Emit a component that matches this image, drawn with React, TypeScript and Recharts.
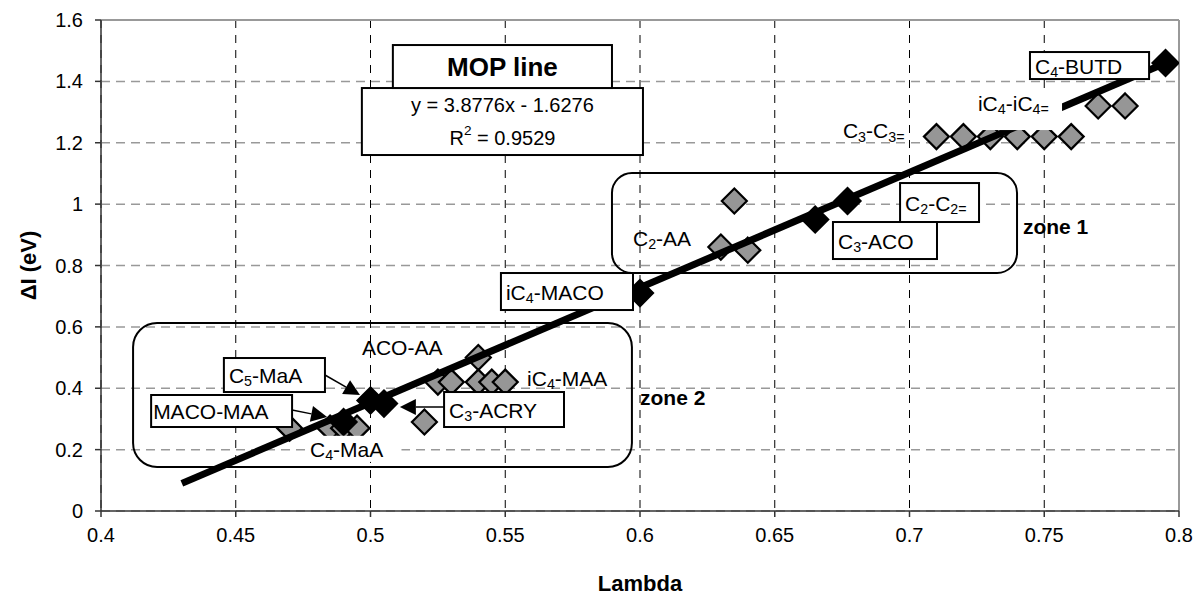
import React from "react";
import {
  CartesianGrid,
  ComposedChart,
  ReferenceArea,
  ReferenceLine,
  Scatter,
  XAxis,
  YAxis,
} from "recharts";

// axis ticks
const xTicks = [0.4, 0.45, 0.5, 0.55, 0.6, 0.65, 0.7, 0.75, 0.8];
const yTicks = [0, 0.2, 0.4, 0.6, 0.8, 1, 1.2, 1.4, 1.6];

// grey diamonds (all pairs)
const pairX = [
  0.71, 0.72, 0.73, 0.74, 0.75, 0.76, 0.77, 0.78, 0.635, 0.63, 0.64, 0.54,
  0.525, 0.53, 0.54, 0.545, 0.55, 0.52, 0.47, 0.485, 0.49, 0.495,
];
const pairY = [
  1.22, 1.22, 1.22, 1.22, 1.22, 1.22, 1.32, 1.32, 1.01, 0.86, 0.85, 0.5, 0.42,
  0.42, 0.42, 0.42, 0.42, 0.29, 0.27, 0.27, 0.27, 0.27,
];

// black diamonds (MOP pairs)
const mopX = [0.795, 0.677, 0.665, 0.6, 0.5, 0.505, 0.49];
const mopY = [1.46, 1.01, 0.95, 0.71, 0.36, 0.35, 0.29];

// MOP fit line ends
const fitX = [0.43, 0.795];
const fitY = [0.09, 1.46];

const pairData = pairX.map((x, i) => ({ x, y: pairY[i] }));
const mopData = mopX.map((x, i) => ({ x, y: mopY[i] }));
const fitData = fitX.map((x, i) => ({ x, y: fitY[i] }));

const FONT = "'Liberation Sans', Arial, sans-serif";
const LABEL = 21;

// "C{4}" -> subscript, "^{2}" -> superscript
function Rich({ text, size }: { text: string; size: number }) {
  const parts: { s: string; k: string }[] = [];
  const re = /(\^?)\{([^}]*)\}/g;
  let last = 0;
  let m: RegExpExecArray | null;
  while ((m = re.exec(text))) {
    if (m.index > last) parts.push({ s: text.slice(last, m.index), k: "n" });
    parts.push({ s: m[2], k: m[1] ? "sup" : "sub" });
    last = m.index + m[0].length;
  }
  if (last < text.length) parts.push({ s: text.slice(last), k: "n" });
  let cur = 0;
  return (
    <>
      {parts.map((p, i) => {
        const target = p.k === "sub" ? size * 0.3 : p.k === "sup" ? -size * 0.4 : 0;
        const dy = target - cur;
        cur = target;
        return (
          <tspan key={i} dy={dy} fontSize={p.k === "n" ? size : size * 0.68}>
            {p.s}
          </tspan>
        );
      })}
    </>
  );
}

type BoxOpts = {
  text?: string;
  size?: number;
  bold?: boolean;
  border?: boolean;
  fill?: string;
  radius?: number;
  align?: "start" | "middle";
  pad?: number;
  lines?: string[];
};

function boxShape(o: BoxOpts) {
  return (p: any) => {
    const { x, y, width, height } = p;
    const size = o.size ?? LABEL;
    const pad = o.pad ?? 5;
    const lines = o.lines ?? (o.text ? [o.text] : []);
    const tx = o.align === "middle" ? x + width / 2 : x + pad;
    const lh = height / Math.max(lines.length, 1);
    return (
      <g>
        <rect
          x={x}
          y={y}
          width={width}
          height={height}
          rx={o.radius ?? 0}
          fill={o.fill ?? "none"}
          stroke={o.border ? "#000" : "none"}
          strokeWidth={2}
        />
        {lines.map((t, i) => (
          <text
            key={i}
            x={tx}
            y={y + lh * i + lh / 2}
            dominantBaseline="central"
            textAnchor={o.align ?? "start"}
            fontFamily={FONT}
            fontSize={size}
            fontWeight={o.bold ? "bold" : "normal"}
            fill="#000"
          >
            <Rich text={t} size={size} />
          </text>
        ))}
      </g>
    );
  };
}

function arrowShape(p: any) {
  const { x1, y1, x2, y2 } = p;
  const ang = Math.atan2(y2 - y1, x2 - x1);
  const L = 16;
  const W = 8;
  const bx = x2 - L * Math.cos(ang);
  const by = y2 - L * Math.sin(ang);
  const nx = -Math.sin(ang) * W;
  const ny = Math.cos(ang) * W;
  return (
    <g>
      <line x1={x1} y1={y1} x2={bx} y2={by} stroke="#000" strokeWidth={1.5} />
      <polygon
        points={`${x2},${y2} ${bx + nx},${by + ny} ${bx - nx},${by - ny}`}
        fill="#000"
      />
    </g>
  );
}

function Diamond({ cx, cy, black }: { cx?: number; cy?: number; black?: boolean }) {
  if (cx == null || cy == null) return null;
  const r = black ? 13 : 12.5;
  return (
    <polygon
      points={`${cx},${cy - r} ${cx + r},${cy} ${cx},${cy + r} ${cx - r},${cy}`}
      fill={black ? "#000" : "#969696"}
      stroke="#000"
      strokeWidth={2.2}
      strokeLinejoin="miter"
    />
  );
}

// annotation boxes in data coordinates [x1, x2, y1, y2]
const annotations: { box: [number, number, number, number]; o: BoxOpts }[] = [
  { box: [0.4119, 0.597, 0.1434, 0.6126], o: { border: true, radius: 24 } },
  { box: [0.5896, 0.7399, 0.7755, 1.1013], o: { border: true, radius: 20 } },
  { box: [0.7421, 0.78, 0.9, 0.96], o: { text: "zone 1", bold: true, pad: 0 } },
  { box: [0.6, 0.64, 0.34, 0.4], o: { text: "zone 2", bold: true, pad: 0 } },
  { box: [0.6753, 0.71, 1.21, 1.27], o: { text: "C{3}-C{3=}", pad: 0 } },
  { box: [0.7243, 0.7566, 1.2414, 1.3294 + 0.045], o: { fill: "#fff" } },
  { box: [0.7254, 0.76, 1.3, 1.36], o: { text: "iC{4}-iC{4=}", pad: 0 } },
  { box: [0.5974, 0.63, 0.86, 0.92], o: { text: "C{2}-AA", pad: 0 } },
  { box: [0.4968, 0.53, 0.5, 0.57], o: { text: "ACO-AA", pad: 0 } },
  { box: [0.5581, 0.59, 0.4, 0.47], o: { text: "iC{4}-MAA", pad: 0 } },
  { box: [0.4768, 0.5115, 0.16, 0.245], o: { text: "C{4}-MaA", fill: "#fff", pad: 2 } },
  { box: [0.4968, 0.6011, 1.16, 1.3783], o: { border: true, fill: "#fff", align: "middle", size: 20, lines: ["y = 3.8776x - 1.6276", "R^{2} = 0.9529"] } },
  { box: [0.5083, 0.5896, 1.3783, 1.5184], o: { border: true, fill: "#fff", align: "middle", text: "MOP line", bold: true, size: 26 } },
  { box: [0.7447, 0.7889, 1.4076, 1.4956], o: { border: true, fill: "#fff", text: "C{4}-BUTD" } },
  { box: [0.6965, 0.7258, 0.9417, 1.0687], o: { border: true, fill: "#fff", text: "C{2}-C{2=}" } },
  { box: [0.6716, 0.7102, 0.8211, 0.9417], o: { border: true, fill: "#fff", text: "C{3}-ACO" } },
  { box: [0.5484, 0.5974, 0.6549, 0.7755], o: { border: true, fill: "#fff", text: "iC{4}-MACO" } },
  { box: [0.4456, 0.4831, 0.3877, 0.4985], o: { border: true, fill: "#fff", text: "C{5}-MaA" } },
  { box: [0.4186, 0.4709, 0.2737, 0.378], o: { border: true, fill: "#fff", text: "MACO-MAA", pad: 2 } },
  { box: [0.5273, 0.5718, 0.2737, 0.3877], o: { border: true, fill: "#fff", text: "C{3}-ACRY" } },
];

// arrows: [fromX, fromY, toX, toY]
const arrows: [number, number, number, number][] = [
  [0.4831, 0.4431, 0.4961, 0.378],
  [0.4709, 0.3291, 0.4839, 0.3063],
  [0.5273, 0.3389, 0.5109, 0.3389],
];

export default function App() {
  return (
    <div style={{ position: "absolute", left: 0, top: 0, width: 1199, height: 601, background: "#fff" }}>
      <ComposedChart
        width={1199}
        height={601}
        margin={{ top: 20, right: 20, bottom: 0, left: 0 }}
      >
        <CartesianGrid
          horizontal={false}
          stroke="#000"
          strokeDasharray="8 7"
          strokeWidth={1}
        />
        <CartesianGrid
          vertical={false}
          stroke="#999"
          strokeDasharray="9 6"
          strokeWidth={1.5}
        />
        <XAxis
          dataKey="x"
          type="number"
          domain={[0.4, 0.8]}
          ticks={xTicks}
          allowDataOverflow
          height={90}
          stroke="#333"
          strokeWidth={1.5}
          tickSize={6}
          tickMargin={11}
          tick={{ fill: "#000", fontSize: 20, fontFamily: FONT }}
          label={{
            content: (p: any) => (
              <text
                x={p.viewBox.x + p.viewBox.width / 2}
                y={583}
                textAnchor="middle"
                dominantBaseline="central"
                fontFamily={FONT}
                fontWeight="bold"
                fontSize={22}
              >
                Lambda
              </text>
            ),
          }}
        />
        <YAxis
          dataKey="y"
          type="number"
          domain={[0, 1.6]}
          ticks={yTicks}
          allowDataOverflow
          width={101}
          stroke="#333"
          strokeWidth={1.5}
          tickSize={6}
          tickMargin={12}
          tick={{ fill: "#000", fontSize: 20, fontFamily: FONT }}
          label={{
            content: (p: any) => (
              <text
                x={28}
                y={p.viewBox.y + p.viewBox.height / 2}
                transform={`rotate(-90 28 ${p.viewBox.y + p.viewBox.height / 2})`}
                textAnchor="middle"
                dominantBaseline="central"
                fontFamily={FONT}
                fontWeight="bold"
                fontSize={22}
              >
                ΔI (eV)
              </text>
            ),
          }}
        />
        <ReferenceLine y={1.6} stroke="#999" strokeWidth={2} />
        <ReferenceLine x={0.8} stroke="#999" strokeWidth={2} />
        <Scatter
          data={pairData}
          isAnimationActive={false}
          shape={(p: any) => <Diamond cx={p.cx} cy={p.cy} />}
        />
        <Scatter
          data={fitData}
          isAnimationActive={false}
          line={{ stroke: "#000", strokeWidth: 7 }}
          shape={() => <g />}
        />
        <Scatter
          data={mopData}
          isAnimationActive={false}
          shape={(p: any) => <Diamond cx={p.cx} cy={p.cy} black />}
        />
        {annotations.map((a, i) => (
          <ReferenceArea
            key={`a${i}`}
            x1={a.box[0]}
            x2={a.box[1]}
            y1={a.box[2]}
            y2={a.box[3]}
            ifOverflow="visible"
            zIndex={2500}
            shape={boxShape(a.o)}
          />
        ))}
        {arrows.map((a, i) => (
          <ReferenceLine
            key={`r${i}`}
            segment={[
              { x: a[0], y: a[1] },
              { x: a[2], y: a[3] },
            ]}
            ifOverflow="visible"
            zIndex={2500}
            shape={arrowShape}
          />
        ))}
      </ComposedChart>
    </div>
  );
}
